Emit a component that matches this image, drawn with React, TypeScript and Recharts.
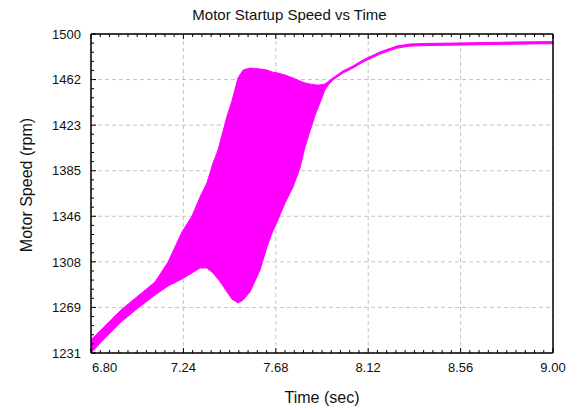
import { AreaChart, Area, XAxis, YAxis, CartesianGrid } from "recharts";

// Time base (s) and the speed envelope (rpm) of the startup trace.
// Below 7.95 s the shaft speed oscillates hard, so the trace is drawn as a
// filled band between its lower and upper envelopes.
const T_SEC = [
  6.8, 6.871, 6.943, 7.024, 7.105, 7.167, 7.233, 7.281, 7.319, 7.352, 7.381,
  7.405, 7.429, 7.448, 7.471, 7.5, 7.524, 7.557, 7.605, 7.638, 7.662, 7.69,
  7.724, 7.762, 7.795, 7.819, 7.843, 7.871, 7.89, 7.914, 7.933, 7.952, 8.0,
  8.048, 8.095, 8.176, 8.257, 8.319, 8.414, 8.571, 8.762, 8.986, 9.0,
];
const SPEED_HI = [
  1242.0, 1254.6, 1267.3, 1279.1, 1290.9, 1307.7, 1333.0, 1346.5, 1362.5,
  1374.4, 1391.2, 1402.2, 1418.2, 1430.9, 1443.5, 1462.9, 1469.6, 1471.3,
  1470.5, 1469.6, 1468.0, 1467.1, 1465.4, 1462.9, 1460.4, 1458.7, 1457.8,
  1457.0, 1457.0, 1457.8, 1460.4, 1463.0, 1468.9, 1473.1, 1478.1, 1484.9,
  1489.9, 1491.6, 1492.1, 1492.5, 1493.1, 1493.6, 1493.6,
];
const SPEED_LO = [
  1231.0, 1244.5, 1257.1, 1269.0, 1279.9, 1287.5, 1293.4, 1298.5, 1302.7,
  1302.7, 1298.5, 1293.4, 1287.5, 1282.4, 1276.5, 1273.2, 1275.7, 1282.4,
  1301.0, 1320.4, 1332.2, 1343.2, 1357.5, 1371.0, 1387.0, 1404.7, 1418.2,
  1433.4, 1441.8, 1452.8, 1457.8, 1461.2, 1467.1, 1471.3, 1476.3, 1483.1,
  1488.1, 1489.8, 1490.3, 1490.7, 1491.3, 1491.8, 1491.8,
];

const X_TICKS = [6.8, 7.24, 7.68, 8.12, 8.56, 9.0];
const X_LABELS = ["6.80", "7.24", "7.68", "8.12", "8.56", "9.00"];
const Y_TICKS = [1231, 1269.43, 1307.86, 1346.29, 1384.71, 1423.14, 1461.57, 1500];
const Y_LABELS = ["1231", "1269", "1308", "1346", "1385", "1423", "1462", "1500"];

const X_SUB = 10;
const Y_SUB = 5;

// split each major interval into minor steps for the small inner tick marks
function withMinor(major: number[], sub: number): number[] {
  const out: number[] = [];
  for (let i = 0; i < major.length - 1; i++) {
    const step = (major[i + 1] - major[i]) / sub;
    for (let k = 0; k < sub; k++) out.push(major[i] + k * step);
  }
  out.push(major[major.length - 1]);
  return out;
}

const X_ALL = withMinor(X_TICKS, X_SUB);
const Y_ALL = withMinor(Y_TICKS, Y_SUB);

const data = T_SEC.map((t, i) => ({ t, speed: [SPEED_LO[i], SPEED_HI[i]] }));

const MAGENTA = "#ff00ff";
const FONT = "Arial, 'Liberation Sans', sans-serif";
const MINOR_LEN = 3;
const MAJOR_LEN = 5;
const BORDER = { stroke: "#000", strokeWidth: 1.5 };

const BottomTick = ({ x, y, index }: any) => {
  const major = index % X_SUB === 0;
  const first = index === 0;
  return (
    <g>
      <line x1={x} x2={x} y1={y} y2={y - (major ? MAJOR_LEN : MINOR_LEN)} stroke="#000" />
      {major && (
        <text
          x={first ? x + 1 : x}
          y={y + 19}
          textAnchor={first ? "start" : "middle"}
          fontSize={13}
          fontFamily={FONT}
          fill="#111"
        >
          {X_LABELS[index / X_SUB]}
        </text>
      )}
    </g>
  );
};

const TopTick = ({ x, y, index }: any) => {
  const major = index % X_SUB === 0;
  return <line x1={x} x2={x} y1={y} y2={y + (major ? MAJOR_LEN : MINOR_LEN)} stroke="#000" />;
};

const LeftTick = ({ x, y, index }: any) => {
  const major = index % Y_SUB === 0;
  return (
    <g>
      <line x1={x} x2={x + (major ? MAJOR_LEN : MINOR_LEN)} y1={y} y2={y} stroke="#000" />
      {major && (
        <text
          x={x - 10}
          y={y}
          dy="0.36em"
          textAnchor="end"
          fontSize={13}
          fontFamily={FONT}
          fill="#111"
        >
          {Y_LABELS[index / Y_SUB]}
        </text>
      )}
    </g>
  );
};

const RightTick = ({ x, y, index }: any) => {
  const major = index % Y_SUB === 0;
  return <line x1={x} x2={x - (major ? MAJOR_LEN : MINOR_LEN)} y1={y} y2={y} stroke="#000" />;
};

export default function App() {
  return (
    <div
      style={{
        position: "absolute",
        left: 0,
        top: 0,
        width: 579,
        height: 410,
        background: "#fff",
        fontFamily: FONT,
        color: "#111",
      }}
    >
      <AreaChart
        width={579}
        height={410}
        data={data}
        margin={{ top: 33, right: 25, bottom: 56, left: 90 }}
      >
        <CartesianGrid
          xAxisId="b"
          yAxisId="l"
          stroke="#c4c4c4"
          strokeDasharray="4 3"
          verticalValues={X_TICKS}
          horizontalValues={Y_TICKS}
        />
        <Area
          xAxisId="b"
          yAxisId="l"
          type="linear"
          dataKey="speed"
          stroke={MAGENTA}
          strokeWidth={1}
          fill={MAGENTA}
          fillOpacity={1}
          dot={false}
          activeDot={false}
          isAnimationActive={false}
        />
        <XAxis
          xAxisId="b"
          dataKey="t"
          type="number"
          orientation="bottom"
          domain={[6.8, 9.0]}
          ticks={X_ALL}
          interval={0}
          height={1}
          tickSize={0}
          tickMargin={0}
          tickLine={false}
          tick={<BottomTick />}
          axisLine={BORDER}
        />
        <XAxis
          xAxisId="t"
          dataKey="t"
          type="number"
          orientation="top"
          domain={[6.8, 9.0]}
          ticks={X_ALL}
          interval={0}
          height={1}
          tickSize={0}
          tickMargin={0}
          tickLine={false}
          tick={<TopTick />}
          axisLine={BORDER}
        />
        <YAxis
          yAxisId="l"
          type="number"
          orientation="left"
          domain={[1231, 1500]}
          ticks={Y_ALL}
          interval={0}
          width={1}
          tickSize={0}
          tickMargin={0}
          tickLine={false}
          tick={<LeftTick />}
          axisLine={BORDER}
        />
        <YAxis
          yAxisId="r"
          type="number"
          orientation="right"
          domain={[1231, 1500]}
          ticks={Y_ALL}
          interval={0}
          width={1}
          tickSize={0}
          tickMargin={0}
          tickLine={false}
          tick={<RightTick />}
          axisLine={BORDER}
        />
      </AreaChart>

      <div
        style={{
          position: "absolute",
          left: 0,
          width: 579,
          top: 6,
          textAlign: "center",
          fontSize: 15,
          lineHeight: "18px",
        }}
      >
        Motor Startup Speed vs Time
      </div>
      <div
        style={{
          position: "absolute",
          left: 91,
          width: 462,
          top: 388,
          textAlign: "center",
          fontSize: 16,
          lineHeight: "20px",
        }}
      >
        Time (sec)
      </div>
      <div
        style={{
          position: "absolute",
          left: 27 - 100,
          top: 185 - 10,
          width: 200,
          height: 20,
          lineHeight: "20px",
          textAlign: "center",
          fontSize: 16,
          transform: "rotate(-90deg)",
        }}
      >
        Motor Speed (rpm)
      </div>
    </div>
  );
}
